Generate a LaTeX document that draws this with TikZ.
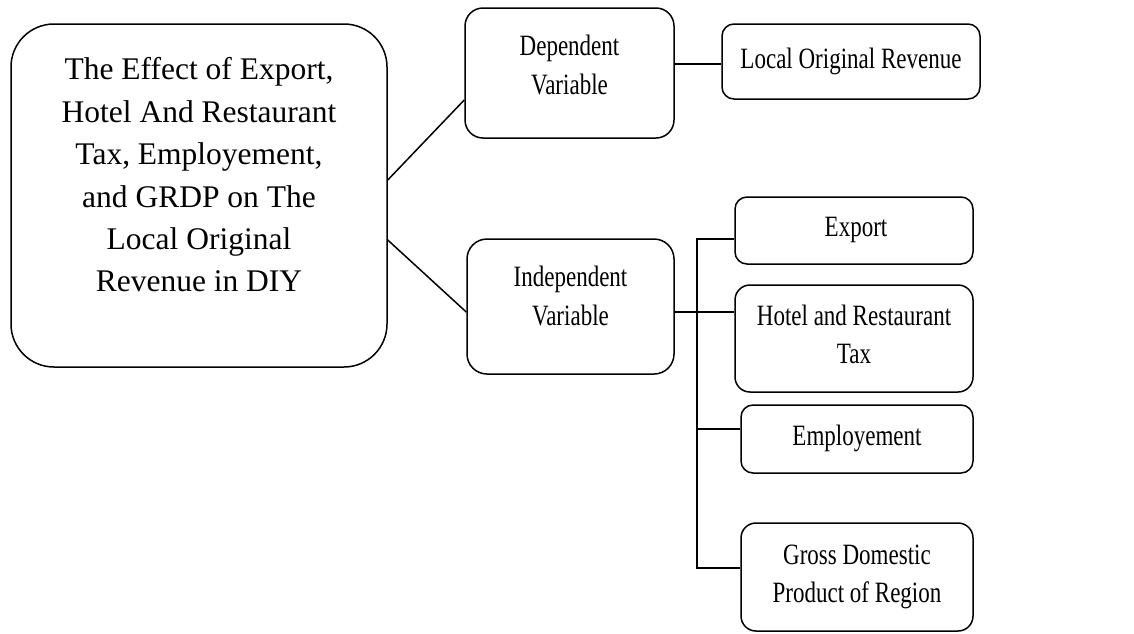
\documentclass[tikz,border=0pt]{standalone}
\usepackage{fontspec}
\setmainfont{Liberation Serif}
\newfontfamily\condserif{Liberation Serif}[FakeStretch=0.78]
\begin{document}
\begin{tikzpicture}[x=1pt,y=-1pt,line width=1.5pt,
  box/.style={draw,rounded corners=#1,inner sep=0pt},
  maintxt/.style={align=center,inner sep=0pt,font=\fontsize{31.5}{42.4}\selectfont},
  subtxt/.style={align=center,inner sep=0pt,font=\condserif\fontsize{29.5}{38.5}\selectfont}]
\useasboundingbox (0,0) rectangle (1134,633);
% boxes
\node[box=43pt,minimum width=376pt,minimum height=343pt] (main) at (199,195.5) {};
\node[box=18pt,minimum width=209pt,minimum height=130pt] (dep) at (569.5,73) {};
\node[box=12pt,minimum width=258pt,minimum height=75pt] (lor) at (851,61.5) {};
\node[box=20pt,minimum width=207pt,minimum height=135pt] (ind) at (570.5,306.5) {};
\node[box=12pt,minimum width=238pt,minimum height=67pt] (exp) at (854,230.5) {};
\node[box=15pt,minimum width=238pt,minimum height=107pt] (hot) at (854,338.5) {};
\node[box=12pt,minimum width=232pt,minimum height=68pt] (emp) at (857,439) {};
\node[box=15pt,minimum width=232pt,minimum height=108pt] (gdp) at (857,577) {};
% texts
\node[maintxt] (maintext) at (199,175) {The Effect of Export,\\Hotel And Restaurant\\Tax, Employement,\\and GRDP on The\\Local Original\\Revenue in DIY};
\node[subtxt] (deptext) at (569.5,65) {Dependent\\Variable};
\node[subtxt] (lortext) at (851,61.5) {Local Original Revenue};
\node[subtxt] (indtext) at (570.5,296) {Independent\\Variable};
\node[subtxt] (exptext) at (856,230) {Export};
\node[subtxt] (hottext) at (854,334.5) {Hotel and Restaurant\\Tax};
\node[subtxt] (emptext) at (857,438) {Employement};
\node[subtxt] (gdptext) at (857,577) {Gross Domestic\\Product of Region};
% connectors
\draw ([yshift=15.5pt]main.east) -- ([yshift=-27pt]dep.west);
\draw ([yshift=-44.5pt]main.east) -- ([yshift=-5.5pt]ind.west);
\draw ([yshift=9pt]dep.east) -- ([yshift=9pt]dep.east -| lor.west);
\draw ([yshift=-5.5pt]ind.east) -- ([yshift=-5.5pt]ind.east -| hot.west);
\coordinate (bustop) at (697,239);
\coordinate (busbot) at (697,568);
\coordinate (busemp) at (697,429);
\draw (bustop -| exp.west) -- (bustop) -- (busbot) -- (busbot -| gdp.west);
\draw (busemp) -- (busemp -| emp.west);
\end{tikzpicture}
\end{document}
